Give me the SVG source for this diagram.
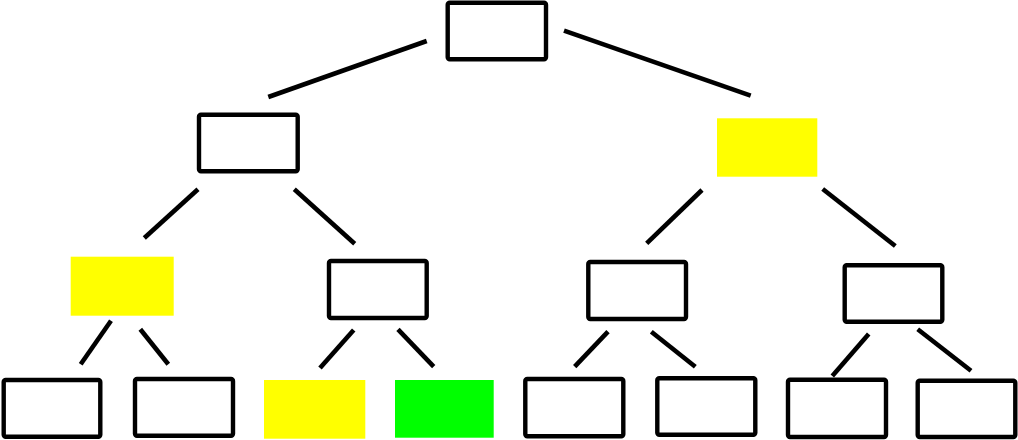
<svg xmlns="http://www.w3.org/2000/svg" width="1018" height="440" viewBox="0 0 1018 440">
<style>
.n{fill:#fff;stroke:#000;stroke-width:4.4;stroke-linejoin:round}
.y{fill:#ffff00}
.g{fill:#00ff00}
.c line{stroke:#000;stroke-width:4.6}
</style>
<rect width="1018" height="440" fill="#fff"/>
<g id="root"><rect class="n" x="447.7" y="2.7" width="98.3" height="56.6" rx="2"/></g>
<g id="l1a"><rect class="n" x="199" y="114.7" width="98.7" height="56.6" rx="2"/></g>
<g id="l1b"><rect class="y" x="717" y="118.3" width="100.3" height="58.4"/></g>
<g id="l2a"><rect class="y" x="70.7" y="256.7" width="103" height="59"/></g>
<g id="l2b"><rect class="n" x="329" y="261" width="97.7" height="57" rx="2"/></g>
<g id="l2c"><rect class="n" x="588.3" y="262" width="97.7" height="57" rx="2"/></g>
<g id="l2d"><rect class="n" x="844.7" y="265.3" width="97.6" height="56.4" rx="2"/></g>
<g id="l3a"><rect class="n" x="3.7" y="380" width="96.6" height="56.7" rx="2"/></g>
<g id="l3b"><rect class="n" x="135" y="379" width="98" height="56.7" rx="2"/></g>
<g id="l3c"><rect class="y" x="264" y="380" width="101.3" height="58.7"/></g>
<g id="l3d"><rect class="g" x="395" y="380" width="98.7" height="57.7"/></g>
<g id="l3e"><rect class="n" x="525.3" y="379" width="98" height="57.3" rx="2"/></g>
<g id="l3f"><rect class="n" x="657.3" y="378.3" width="98" height="56.4" rx="2"/></g>
<g id="l3g"><rect class="n" x="788" y="379.7" width="98" height="57.3" rx="2"/></g>
<g id="l3h"><rect class="n" x="917.7" y="380.7" width="97.6" height="56.3" rx="2"/></g>
<g id="connectors" class="c">
<line x1="426.7" y1="41" x2="268.3" y2="97"/>
<line x1="564" y1="30.7" x2="750.7" y2="95.7"/>
<line x1="198" y1="189.3" x2="144.3" y2="238"/>
<line x1="294.3" y1="189.3" x2="354.7" y2="243.7"/>
<line x1="702" y1="190" x2="646.7" y2="243.3"/>
<line x1="822.7" y1="189" x2="895.3" y2="246"/>
<line x1="111" y1="320.7" x2="80.7" y2="364.3"/>
<line x1="140.3" y1="329.3" x2="168.3" y2="364.3"/>
<line x1="353.7" y1="330" x2="320" y2="368"/>
<line x1="398" y1="329.3" x2="433.7" y2="366.7"/>
<line x1="608" y1="331.7" x2="574.7" y2="366.7"/>
<line x1="651.3" y1="331.7" x2="695.3" y2="366.7"/>
<line x1="868.7" y1="334" x2="832.3" y2="376"/>
<line x1="917.7" y1="329.3" x2="971" y2="370.7"/>
</g>
</svg>
